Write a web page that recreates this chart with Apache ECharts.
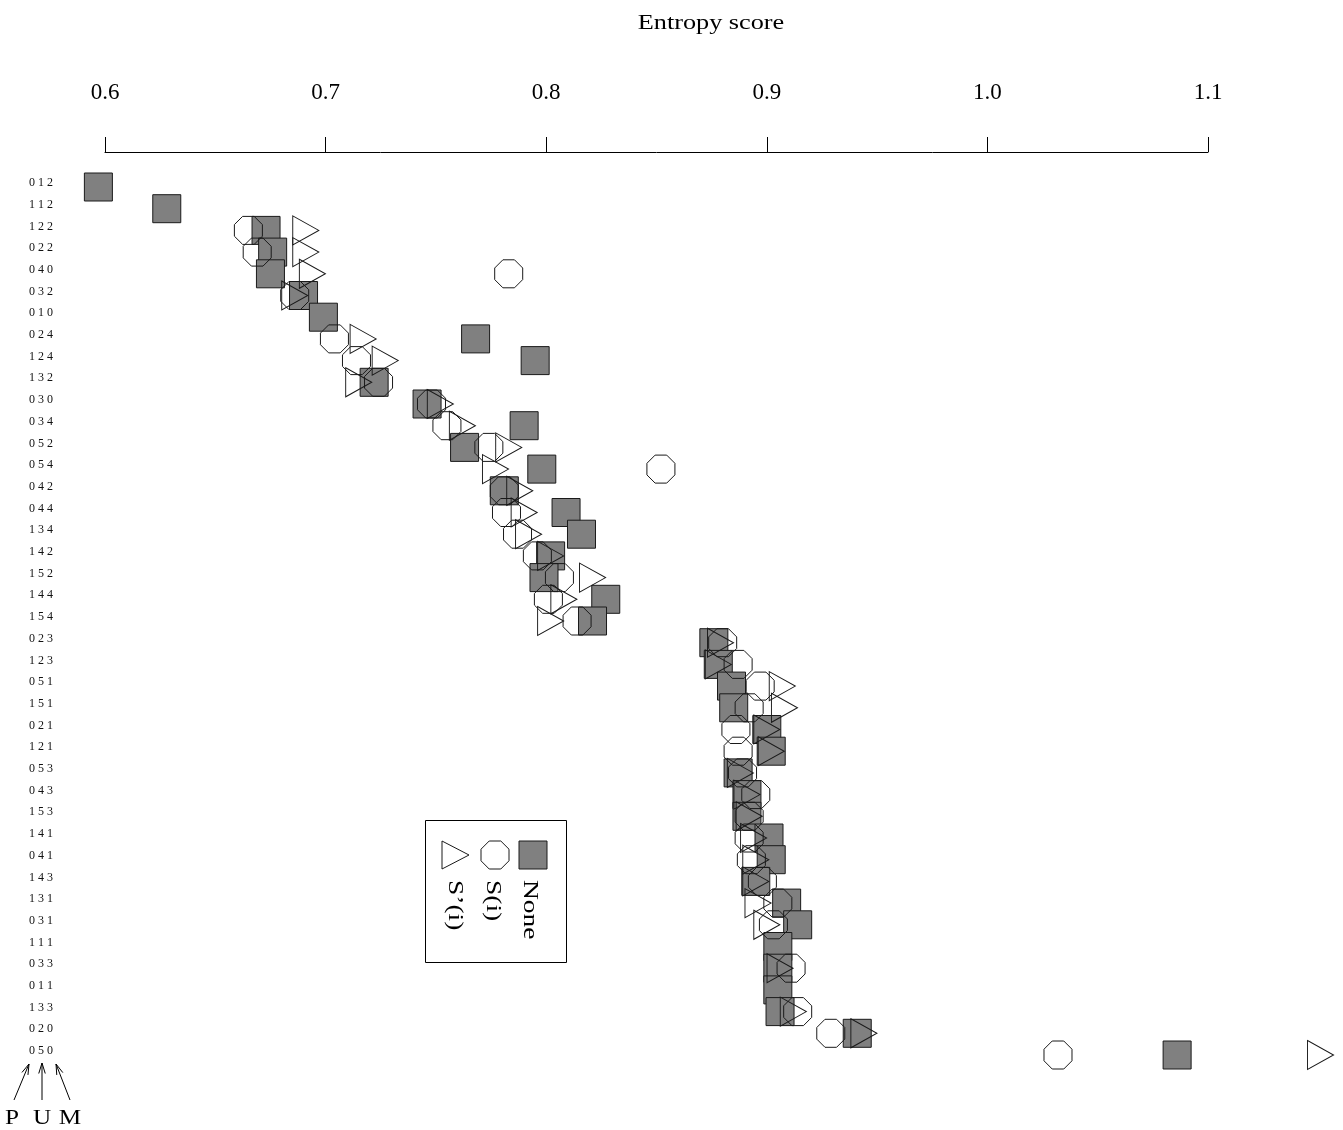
<!DOCTYPE html>
<html>
<head>
<meta charset="utf-8">
<title>Entropy score</title>
<script src="https://cdn.jsdelivr.net/npm/echarts@6/dist/echarts.min.js"></script>
<style>
  html, body { margin: 0; padding: 0; background: #ffffff; }
  #chart { width: 1343px; height: 1130px; }
</style>
</head>
<body>
<div id="chart"></div>
<script>
// Parameter settings P U M, listed top to bottom
const settings = [
  '0 1 2', '1 1 2', '1 2 2', '0 2 2', '0 4 0', '0 3 2', '0 1 0', '0 2 4', '1 2 4', '1 3 2',
  '0 3 0', '0 3 4', '0 5 2', '0 5 4', '0 4 2', '0 4 4', '1 3 4', '1 4 2', '1 5 2', '1 4 4',
  '1 5 4', '0 2 3', '1 2 3', '0 5 1', '1 5 1', '0 2 1', '1 2 1', '0 5 3', '0 4 3', '1 5 3',
  '1 4 1', '0 4 1', '1 4 3', '1 3 1', '0 3 1', '1 1 1', '0 3 3', '0 1 1', '1 3 3', '0 2 0',
  '0 5 0'
];

// Entropy score with no smoothing
const noneScores = [
  0.597, 0.628, 0.673, 0.676, 0.675, 0.690, 0.699, 0.768, 0.795, 0.722,
  0.746, 0.790, 0.763, 0.798, 0.781, 0.809, 0.816, 0.802, 0.799, 0.827,
  0.821, 0.876, 0.878, 0.884, 0.885, 0.900, 0.902, 0.887, 0.891, 0.891,
  0.901, 0.902, 0.895, 0.909, 0.914, 0.905, 0.905, 0.905, 0.906, 0.941,
  1.086
];

// Entropy score with S(i)
const sScores = [
  null,  null,  0.665, 0.669, 0.783, 0.686, null,  0.704, 0.714, 0.724,
  0.748, 0.755, 0.774, 0.852, 0.781, 0.782, 0.787, 0.796, 0.806, 0.801,
  0.814, 0.880, 0.887, 0.897, 0.892, 0.886, 0.887, 0.889, 0.895, 0.892,
  0.892, 0.893, 0.898, 0.905, 0.903, null,  0.911, null,  0.914, 0.929,
  1.032
];

// Entropy score with S'(i)
const spScores = [
  null,  null,  0.691, 0.691, 0.694, 0.686, null,  0.717, 0.727, 0.715,
  0.752, 0.762, 0.783, 0.777, 0.788, 0.790, 0.792, 0.802, 0.821, 0.808,
  0.802, 0.879, 0.878, 0.907, 0.908, 0.900, 0.902, 0.888, 0.891, 0.892,
  0.894, 0.895, 0.895, 0.896, 0.900, null,  0.906, null,  0.912, 0.944,
  1.151
];

const xMin = 0.6, xMax = 1.1, xStep = 0.1;

const SERIF = '"Liberation Serif", "Times New Roman", serif';
const OCTAGON = 'path://M29.3,0 L70.7,0 L100,29.3 L100,70.7 L70.7,100 L29.3,100 L0,70.7 L0,29.3 Z';
const TRIANGLE = 'path://M0,0 L90,50 L0,100 Z';

function points(scores) {
  const out = [];
  scores.forEach((v, i) => { if (v !== null) out.push([v, settings[i]]); });
  return out;
}

// open V arrow from tail to tip
function arrow(x1, y1, x2, y2) {
  const ang = Math.atan2(y2 - y1, x2 - x1);
  const len = 11, spread = 0.3;
  const a = [x2 - len * Math.cos(ang - spread), y2 - len * Math.sin(ang - spread)];
  const b = [x2 - len * Math.cos(ang + spread), y2 - len * Math.sin(ang + spread)];
  const ls = { stroke: '#000', lineWidth: 1, fill: null };
  return [
    { type: 'line', shape: { x1, y1, x2, y2 }, style: ls },
    { type: 'polyline', shape: { points: [a, [x2, y2], b] }, style: ls }
  ];
}

function octagonPts(cx, cy, w) {
  const h = w / 2, k = w * 0.2071;
  return [[cx - k, cy - h], [cx + k, cy - h], [cx + h, cy - k], [cx + h, cy + k],
          [cx + k, cy + h], [cx - k, cy + h], [cx - h, cy + k], [cx - h, cy - k]];
}

function vtext(txt, x, y) {
  return {
    type: 'text', x, y, rotation: -Math.PI / 2, scaleX: 1.25,
    style: { text: txt, font: '22px ' + SERIF, fill: '#000', align: 'left', verticalAlign: 'middle' }
  };
}

const chart = echarts.init(document.getElementById('chart'), null, { renderer: 'canvas' });

const graphics = [
  {
    type: 'text', x: 711, y: 23, scaleX: 1.25,
    style: { text: 'Entropy score', font: '21px ' + SERIF, fill: '#000', align: 'center', verticalAlign: 'middle' }
  },
  // key box
  { type: 'rect', shape: { x: 425.5, y: 820.5, width: 141, height: 142 }, style: { fill: '#fff', stroke: '#000', lineWidth: 1 } },
  { type: 'rect', shape: { x: 519, y: 841, width: 28, height: 28 }, style: { fill: '#808080', stroke: '#1a1a1a', lineWidth: 1 } },
  { type: 'polygon', shape: { points: octagonPts(495, 855, 28) }, style: { fill: 'none', stroke: '#1a1a1a', lineWidth: 1 } },
  { type: 'polygon', shape: { points: [[442, 841], [469, 855], [442, 869]] }, style: { fill: 'none', stroke: '#1a1a1a', lineWidth: 1 } },
  vtext('None', 530, 880),
  vtext('S(i)', 493, 880),
  vtext('S\u2019(i)', 455, 880),
  // P U M markers under the setting labels
  { type: 'text', x: 12, y: 1118, scaleX: 1.2, style: { text: 'P', font: '21px ' + SERIF, fill: '#000', align: 'center', verticalAlign: 'middle' } },
  { type: 'text', x: 42, y: 1118, scaleX: 1.2, style: { text: 'U', font: '21px ' + SERIF, fill: '#000', align: 'center', verticalAlign: 'middle' } },
  { type: 'text', x: 70, y: 1118, scaleX: 1.2, style: { text: 'M', font: '21px ' + SERIF, fill: '#000', align: 'center', verticalAlign: 'middle' } }
].concat(arrow(14, 1100, 29, 1064), arrow(42, 1100, 42, 1063), arrow(70, 1100, 56, 1064));

chart.setOption({
  animation: false,
  backgroundColor: '#ffffff',
  grid: { left: 105, right: 135, top: 187, bottom: 75 },
  xAxis: {
    type: 'value',
    position: 'top',
    offset: 35,
    min: xMin,
    max: xMax,
    interval: xStep,
    splitLine: { show: false },
    axisLine: { show: true, lineStyle: { color: '#000', width: 1 } },
    axisTick: { show: true, length: 15, lineStyle: { color: '#000', width: 1 } },
    axisLabel: {
      margin: 48,
      fontSize: 23,
      fontFamily: SERIF,
      color: '#000',
      formatter: v => v.toFixed(1)
    }
  },
  yAxis: {
    type: 'category',
    data: settings,
    inverse: true,
    boundaryGap: false,
    axisLine: { show: false },
    axisTick: { show: false },
    splitLine: { show: false },
    axisLabel: {
      interval: 0,
      align: 'left',
      verticalAlign: 'bottom',
      lineHeight: 8,
      margin: 76,
      fontSize: 12,
      fontFamily: SERIF,
      color: '#111'
    }
  },
  series: [
    {
      name: 'None', type: 'scatter', data: points(noneScores),
      symbol: 'rect', symbolSize: 28, clip: false, z: 2,
      itemStyle: { color: '#808080', borderColor: '#1a1a1a', borderWidth: 1, opacity: 1 },
      emphasis: { disabled: true }
    },
    {
      name: 'S(i)', type: 'scatter', data: points(sScores),
      symbol: OCTAGON, symbolSize: 28, clip: false, z: 3,
      itemStyle: { color: 'rgba(255,255,255,0)', borderColor: '#1a1a1a', borderWidth: 1, opacity: 1 },
      emphasis: { disabled: true }
    },
    {
      name: 'S\u2019(i)', type: 'scatter', data: points(spScores),
      symbol: TRIANGLE, symbolSize: [26, 29], clip: false, z: 4,
      itemStyle: { color: 'rgba(255,255,255,0)', borderColor: '#1a1a1a', borderWidth: 1, opacity: 1 },
      emphasis: { disabled: true }
    }
  ],
  graphic: graphics
});
</script>
</body>
</html>
